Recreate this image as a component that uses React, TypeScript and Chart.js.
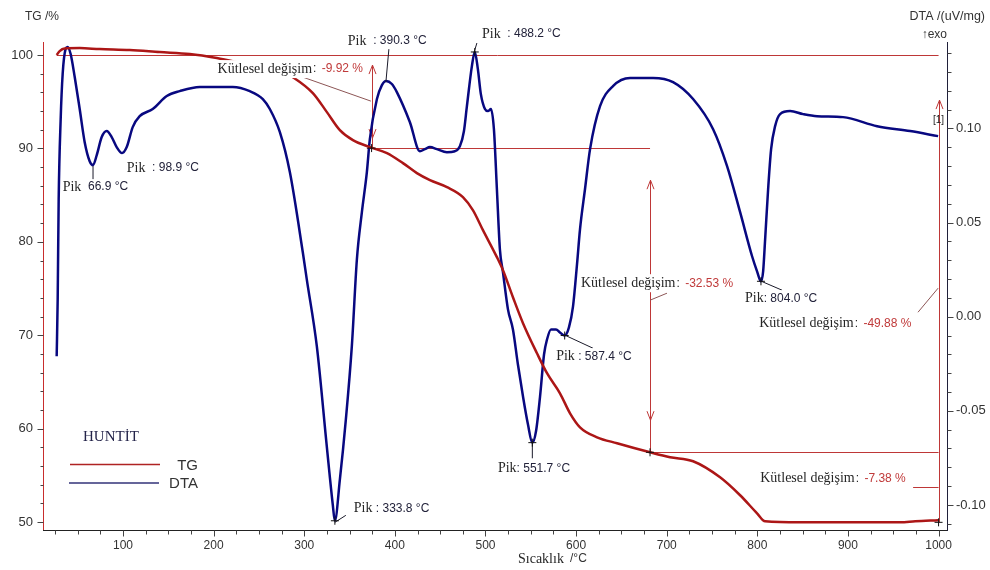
import React, { useEffect, useRef } from 'react';
import { Chart, registerables } from 'chart.js';

Chart.register(...registerables);

// ---------------- DATA ----------------
const tgTemp = [26.8, 30.1, 35.6, 52.2, 74.3, 107.4, 140.5, 173.7, 203.5, 239.9, 273.0, 287.4, 309.5, 325.0, 339.3, 353.7, 372.5, 391.3, 408.9, 424.3, 438.7, 457.5, 475.1, 486.1, 497.2, 512.6, 519.3, 530.3, 541.4, 556.8, 567.9, 582.2, 593.3, 604.3, 623.1, 645.2, 681.6, 703.7, 729.1, 758.9, 781.0, 799.7, 808.6, 847.3, 902.5, 957.7, 974.3, 999.5];
const tgValues = [100.0, 100.43, 100.70, 100.75, 100.64, 100.54, 100.32, 100.11, 99.68, 98.95, 98.39, 97.64, 95.93, 93.89, 91.96, 90.89, 90.14, 89.50, 88.43, 87.36, 86.61, 85.86, 84.79, 83.39, 81.25, 78.36, 76.96, 74.07, 71.29, 68.07, 65.93, 63.78, 61.64, 60.14, 59.07, 58.43, 57.46, 56.93, 56.50, 54.78, 52.86, 50.93, 50.07, 49.96, 49.96, 49.96, 50.07, 50.18];

const dtaTemp = [26.8, 27.9, 29.0, 31.2, 33.4, 36.7, 38.9, 42.2, 46.7, 52.2,
  57.7, 63.2, 66.9, 71.0, 76.5, 82.0, 87.5, 93.0, 98.9, 104.1,
  110.7, 118.4, 132.8, 148.3, 162.6, 184.7, 221.1, 239.9, 254.3, 262.0,
  273.1, 284.1, 298.4, 302.8, 313.9, 324.9, 331.5, 333.8, 339.3, 345.9,
  352.5, 358.1, 363.6, 369.1, 372.4, 380.2, 385.7, 390.3, 396.7, 402.2,
  416.6, 427.6, 433.1, 438.7, 446.4, 457.4, 466.3, 471.8, 476.2, 479.5,
  485.0, 488.2, 491.6, 494.9, 499.4, 502.7, 506.0, 509.3, 512.6, 515.9,
  519.3, 524.8, 530.3, 535.8, 541.4, 546.9, 551.7, 555.7, 560.2, 564.6,
  567.9, 572.3, 577.8, 582.2, 587.4, 592.1, 596.6, 601.0, 604.3, 609.8,
  615.4, 626.4, 640.7, 659.5, 684.9, 707.0, 729.1, 751.2, 766.6, 781.0,
  794.2, 799.7, 804.0, 806.4, 808.6, 811.9, 815.2, 819.6, 825.1, 836.2,
  850.5, 865.9, 894.6, 932.2, 968.6, 999.5];
const dtaValues = [-0.021, 0.0092, 0.0624, 0.1049, 0.1289, 0.1422, 0.1433, 0.1395, 0.1273, 0.1103,
  0.0927, 0.0826, 0.0805, 0.0858, 0.0954, 0.0986, 0.0954, 0.0901, 0.0869, 0.0901,
  0.1007, 0.1065, 0.1103, 0.1172, 0.1198, 0.1220, 0.1220, 0.1198, 0.1156, 0.1103,
  0.0980, 0.0768, 0.0342, 0.0198, -0.0158, -0.0690, -0.0999, -0.1084, -0.0866, -0.0547,
  -0.0158, 0.0305, 0.0555, 0.0768, 0.0943, 0.1156, 0.1230, 0.1252, 0.1236, 0.1193,
  0.1033, 0.0879, 0.0890, 0.0901, 0.0890, 0.0874, 0.0879, 0.0906, 0.0985, 0.1118,
  0.1331, 0.1406, 0.1315, 0.1182, 0.1103, 0.1092, 0.1103, 0.0996, 0.0677, 0.0358,
  0.0236, 0.0039, -0.0068, -0.0254, -0.0424, -0.0573, -0.0669, -0.0610, -0.0424, -0.0201,
  -0.0121, -0.0068, -0.0068, -0.0084, -0.0100, -0.0057, 0.0055, 0.0278, 0.0464, 0.0677,
  0.0890, 0.1118, 0.1225, 0.1268, 0.1268, 0.1246, 0.1156, 0.0996, 0.0800, 0.0555,
  0.0321, 0.0241, 0.0188, 0.0241, 0.0411, 0.0677, 0.0890, 0.1012, 0.1076, 0.1092,
  0.1076, 0.1065, 0.1060, 0.1012, 0.0986, 0.0959];

const xTicks = [100, 200, 300, 400, 500, 600, 700, 800, 900, 1000];
const tgTicks = [50, 60, 70, 80, 90, 100];
const dtaTicks = [-0.10, -0.05, 0.0, 0.05, 0.10];

// peak labels: temperature text
const peakTexts = ['  66.9 °C', '  : 98.9 °C', '  : 390.3 °C', '  : 488.2 °C', ' : 333.8 °C', ': 551.7 °C', ' : 587.4 °C', ': 804.0 °C'];
const massTexts = ['-9.92 %', '-32.53 %', '-49.88 %', '-7.38 %'];

// ---------------- ANNOTATION PLACEMENT (data units: °C, TG %) ----------------
const peakPos = [[33.4, 85.86], [104.1, 87.89], [348.1, 101.5], [496.1, 102.25], [354.7, 51.46], [513.7, 55.75], [578.0, 67.75], [786.4, 73.96]];
const massPos = [[204.3, 98.5], [605.4, 75.57], [802.1, 71.28], [803.2, 54.68]];
const hLines = [[26.8, 1000, 100.0], [369.1, 681.6, 90.04], [681.6, 1000, 57.46], [971.9, 1000, 53.75]];
const vArrows = [
  { t: 374.3, top: 98.93, bottom: 90.04, down: 91.11 },
  { t: 681.6, top: 86.6, bottom: 57.46, down: 60.9 },
  { t: 1000, top: 95.18, bottom: 49.96, down: null as number | null },
];
const peakLeaders = [[66.9, 88.11, 66.9, 86.61], [390.1, 97.11, 393.4, 100.64], [487.2, 100.21, 490.5, 101.29], [333.8, 49.96, 345.9, 50.71], [551.7, 58.53, 551.7, 56.82], [587.7, 70.0, 618.6, 68.61], [804.1, 75.79, 827.3, 74.82]];
const massLeaders = [[298.4, 97.64, 373.5, 95.07], [681.6, 73.75, 700.3, 74.5], [977.3, 72.46, 999.5, 75.04]];
const dtaCrosses = [[488.2, 0.1406], [333.8, -0.1084], [551.7, -0.0669], [587.4, -0.0100], [804.0, 0.0188]];
const tgCrosses = [[374.3, 90.04], [681.6, 57.46], [1000, 49.96]];

const SERIF = '"Liberation Serif", "Times New Roman", serif';
const SANS = '"Liberation Sans", Arial, sans-serif';
const TG_COLOR = 'rgb(172,22,22)';
const DTA_COLOR = 'rgb(8,8,128)';
const ANN_RED = 'rgb(190,55,55)';
const TEXT = '#262626';
const RED_TEXT = 'rgb(192,58,58)';

function line(ctx: CanvasRenderingContext2D, x1: number, y1: number, x2: number, y2: number) {
  ctx.beginPath();
  ctx.moveTo(x1, y1);
  ctx.lineTo(x2, y2);
  ctx.stroke();
}

const thermoPlugin = {
  id: 'thermo',
  beforeDatasetsDraw(chart: any) {
    const { ctx, scales } = chart;
    const px = (t: number) => scales.x.getPixelForValue(t);
    const py = (v: number) => scales.y.getPixelForValue(v);
    ctx.save();
    ctx.strokeStyle = ANN_RED;
    ctx.lineWidth = 1;
    hLines.forEach(([a, b, v]) => {
      const y = Math.round(py(v)) + 0.5;
      line(ctx, px(a), y, px(b), y);
    });
    vArrows.forEach((ar) => {
      const x = Math.round(px(ar.t)) + 0.5;
      const yt = py(ar.top);
      line(ctx, x, yt, x, py(ar.bottom));
      line(ctx, x - 3.5, yt + 9, x, yt);
      line(ctx, x + 3.5, yt + 9, x, yt);
      if (ar.down !== null) {
        const yd = py(ar.down);
        line(ctx, x - 3.5, yd - 9, x, yd);
        line(ctx, x + 3.5, yd - 9, x, yd);
      }
    });
    ctx.restore();
  },
  afterDatasetsDraw(chart: any) {
    const { ctx, scales } = chart;
    const px = (t: number) => scales.x.getPixelForValue(t);
    const py = (v: number) => scales.y.getPixelForValue(v);
    const py2 = (v: number) => scales.y2.getPixelForValue(v);
    ctx.save();
    // leaders
    ctx.lineWidth = 1;
    ctx.strokeStyle = '#1a1a2a';
    peakLeaders.forEach(([a, b, c, d]) => line(ctx, px(a), py(b), px(c), py(d)));
    ctx.strokeStyle = 'rgb(140,85,85)';
    massLeaders.forEach(([a, b, c, d]) => line(ctx, px(a), py(b), px(c), py(d)));
    // crosses
    ctx.strokeStyle = '#111';
    const cross = (x: number, y: number) => {
      line(ctx, x - 4, y, x + 4, y);
      line(ctx, x, y - 4, x, y + 4);
    };
    dtaCrosses.forEach(([t, v]) => cross(px(t), py2(v)));
    tgCrosses.forEach(([t, v]) => cross(px(t), py(v)));

    ctx.textBaseline = 'middle';
    ctx.textAlign = 'left';
    const serifFont = `14px ${SERIF}`;
    const sansFont = `12px ${SANS}`;
    // peak labels
    peakTexts.forEach((txt, i) => {
      const x = px(peakPos[i][0]);
      const y = py(peakPos[i][1]);
      ctx.font = serifFont;
      const w1 = ctx.measureText('Pik').width;
      ctx.font = sansFont;
      const w2 = ctx.measureText(txt).width;
      ctx.fillStyle = '#fff';
      ctx.fillRect(x - 1, y - 8, w1 + w2 + 2, 16);
      ctx.font = serifFont;
      ctx.fillStyle = TEXT;
      ctx.fillText('Pik', x, y);
      ctx.font = sansFont;
      ctx.fillStyle = '#22223a';
      ctx.fillText(txt, x + w1, y);
    });
    // mass change labels
    massTexts.forEach((txt, i) => {
      const x = px(massPos[i][0]);
      const y = py(massPos[i][1]);
      ctx.font = serifFont;
      const w1 = ctx.measureText('Kütlesel değişim').width;
      ctx.font = sansFont;
      const w2 = ctx.measureText(': ').width;
      const w3 = ctx.measureText(txt).width;
      ctx.fillStyle = '#fff';
      ctx.fillRect(x - 1, y - 9, w1 + w2 + w3 + 4, 18);
      ctx.font = serifFont;
      ctx.fillStyle = TEXT;
      ctx.fillText('Kütlesel değişim', x, y);
      ctx.font = sansFont;
      ctx.fillText(': ', x + w1 + 1, y);
      ctx.fillStyle = RED_TEXT;
      ctx.fillText(txt, x + w1 + w2 + 3, y);
    });
    // [1]
    ctx.font = `10px ${SANS}`;
    ctx.fillStyle = '#222';
    ctx.textAlign = 'center';
    ctx.fillText('[1]', px(1000), py(93.0));
    ctx.restore();
  },
  afterDraw(chart: any) {
    const { ctx, chartArea: a, scales } = chart;
    const x = scales.x, y = scales.y, y2 = scales.y2;
    ctx.save();
    ctx.lineWidth = 1;
    // axis lines
    const L = Math.round(a.left) + 0.5;
    const R = Math.round(a.right) + 0.5;
    const B = Math.round(a.bottom) + 0.5;
    ctx.strokeStyle = 'rgb(200,45,45)';
    line(ctx, L, a.top, L, a.bottom);
    ctx.strokeStyle = '#222';
    line(ctx, a.left, B, a.right, B);
    ctx.strokeStyle = '#20203a';
    line(ctx, R, a.top, R, a.bottom + 1);
    // ticks
    ctx.strokeStyle = '#444';
    for (let v = 50; v <= 100.001; v += 2) {
      const yy = Math.round(y.getPixelForValue(v)) + 0.5;
      const major = Math.abs(v % 10) < 0.01;
      line(ctx, L - (major ? 6 : 3), yy, L, yy);
    }
    for (let t = 25; t <= 1000.001; t += 25) {
      const xx = Math.round(x.getPixelForValue(t)) + 0.5;
      const major = t % 100 === 0;
      line(ctx, xx, B, xx, B + (major ? 6 : 4));
    }
    for (let k = -11; k <= 14; k++) {
      const v = k / 100;
      const yy = Math.round(y2.getPixelForValue(v)) + 0.5;
      const major = k % 5 === 0;
      line(ctx, R, yy, R + (major ? 6 : 4), yy);
    }
    // titles
    ctx.textBaseline = 'middle';
    ctx.fillStyle = '#333';
    ctx.font = `12px ${SANS}`;
    ctx.textAlign = 'left';
    ctx.fillText('TG /%', 25, 17);
    ctx.textAlign = 'right';
    ctx.font = `12.5px ${SANS}`;
    ctx.fillText('DTA /(uV/mg)', 985, 17);
    ctx.font = `12px ${SANS}`;
    ctx.fillText('↑exo', 947, 35);
    // x title
    ctx.textAlign = 'left';
    ctx.font = `14px ${SERIF}`;
    ctx.fillStyle = TEXT;
    ctx.fillText('Sıcaklık', 518, 559);
    ctx.font = `12px ${SANS}`;
    ctx.fillStyle = '#333';
    ctx.fillText('/°C', 570, 559);
    // legend
    ctx.font = `15px ${SERIF}`;
    ctx.fillStyle = '#24244a';
    ctx.fillText('HUNTİT', 83, 437);
    ctx.lineWidth = 1.5;
    ctx.strokeStyle = 'rgb(175,35,35)';
    line(ctx, 70, 464.5, 160, 464.5);
    ctx.strokeStyle = 'rgb(50,50,120)';
    line(ctx, 69, 483, 159, 483);
    ctx.font = `15px ${SANS}`;
    ctx.fillStyle = '#333';
    ctx.textAlign = 'right';
    ctx.fillText('TG', 198, 466);
    ctx.fillText('DTA', 198, 484);
    ctx.restore();
  },
};

export default function App() {
  const ref = useRef<HTMLCanvasElement>(null);
  useEffect(() => {
    const canvas = ref.current;
    if (!canvas) return;
    const tickFont = { family: SANS, size: 12 };
    const chart = new Chart(canvas, {
      type: 'line',
      data: {
        datasets: [
          {
            label: 'TG',
            data: tgTemp.map((t, i) => ({ x: t, y: tgValues[i] })),
            yAxisID: 'y',
            borderColor: TG_COLOR,
            borderWidth: 2.5,
            pointRadius: 0,
            cubicInterpolationMode: 'monotone',
            fill: false,
          },
          {
            label: 'DTA',
            data: dtaTemp.map((t, i) => ({ x: t, y: dtaValues[i] })),
            yAxisID: 'y2',
            borderColor: DTA_COLOR,
            borderWidth: 2.5,
            pointRadius: 0,
            cubicInterpolationMode: 'monotone',
            fill: false,
          },
        ],
      },
      options: {
        animation: false,
        responsive: true,
        maintainAspectRatio: false,
        events: [],
        layout: { padding: { top: 42, left: 0, right: 0, bottom: 0 } },
        plugins: { legend: { display: false }, tooltip: { enabled: false } },
        scales: {
          x: {
            type: 'linear',
            position: 'bottom',
            min: 11.7,
            max: 1009.3,
            grid: { display: false, drawTicks: false },
            border: { display: false },
            ticks: { padding: 8, font: tickFont, color: '#333', maxRotation: 0, autoSkip: false, callback: (v: any) => String(v) },
            afterBuildTicks: (s: any) => { s.ticks = xTicks.map((v) => ({ value: v })); },
            afterFit: (s: any) => { s.height = 40; },
          },
          y: {
            type: 'linear',
            position: 'left',
            min: 49.14,
            max: 101.4,
            grid: { display: false, drawTicks: false },
            border: { display: false },
            ticks: { padding: 10, font: { family: SANS, size: 13 }, color: '#333', autoSkip: false, callback: (v: any) => String(v) },
            afterBuildTicks: (s: any) => { s.ticks = tgTicks.map((v) => ({ value: v })); },
            afterFit: (s: any) => { s.width = 43; },
          },
          y2: {
            type: 'linear',
            position: 'right',
            min: -0.1133,
            max: 0.1459,
            grid: { display: false, drawTicks: false },
            border: { display: false },
            ticks: { padding: 9, font: { family: SANS, size: 13 }, color: '#333', autoSkip: false, callback: (v: any) => Number(v).toFixed(2) },
            afterBuildTicks: (s: any) => { s.ticks = dtaTicks.map((v) => ({ value: v })); },
            afterFit: (s: any) => { s.width = 43; },
          },
        },
      } as any,
      plugins: [thermoPlugin],
    });
    return () => chart.destroy();
  }, []);
  return (
    <div style={{ position: 'absolute', left: 0, top: 0, width: 990, height: 570, background: '#fff' }}>
      <canvas ref={ref} />
    </div>
  );
}
